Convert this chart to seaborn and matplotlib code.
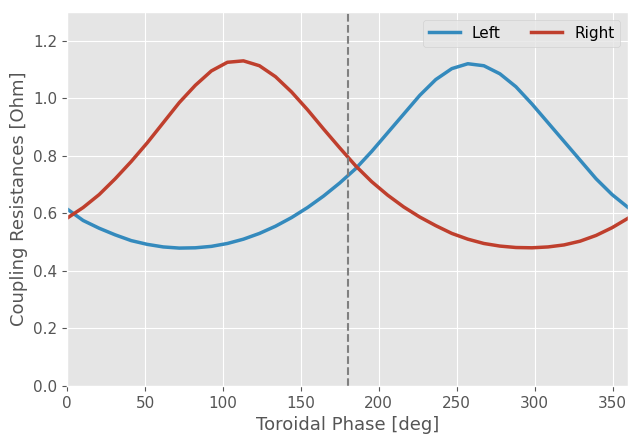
import numpy as np
import pandas as pd
import seaborn as sns
import matplotlib.pyplot as plt

# Toroidal phase samples (36 points over one turn)
phase = np.linspace(0, 360, 36)

left = [0.615, 0.575, 0.548, 0.525, 0.505, 0.492, 0.483, 0.479, 0.480, 0.485,
        0.495, 0.510, 0.530, 0.555, 0.585, 0.620, 0.660, 0.705, 0.755, 0.815,
        0.880, 0.945, 1.010, 1.065, 1.103, 1.120, 1.113, 1.085, 1.040, 0.980,
        0.915, 0.850, 0.785, 0.720, 0.665, 0.620]

right = [0.583, 0.620, 0.665, 0.720, 0.780, 0.845, 0.915, 0.985, 1.045, 1.095,
         1.125, 1.130, 1.113, 1.075, 1.022, 0.960, 0.893, 0.828, 0.765, 0.710,
         0.663, 0.622, 0.587, 0.557, 0.530, 0.510, 0.495, 0.486, 0.481, 0.480,
         0.483, 0.490, 0.503, 0.523, 0.550, 0.583]

df = pd.DataFrame({'phase': np.concatenate([phase, phase]),
                   'R': left + right,
                   'side': ['Left'] * len(phase) + ['Right'] * len(phase)})

plt.style.use('ggplot')
fig, ax = plt.subplots(figsize=(6.39, 4.43), dpi=100)

sns.lineplot(data=df, x='phase', y='R', hue='side',
             palette={'Left': '#348ABD', 'Right': '#BF3F2D'},
             linewidth=2.5, ax=ax)
ax.axvline(180, color='gray', linestyle='--', linewidth=1.5)

ax.set_xlim(0, 360)
ax.set_ylim(0, 1.3)
ax.set_xlabel('Toroidal Phase [deg]', fontsize=13)
ax.set_ylabel('Coupling Resistances [Ohm]', fontsize=13)
ax.tick_params(labelsize=11)
ax.legend(loc='upper right', ncol=2, fontsize=11, title=None)

fig.subplots_adjust(left=0.105, right=0.983, top=0.973, bottom=0.129)
plt.savefig('out.png')
plt.close()
